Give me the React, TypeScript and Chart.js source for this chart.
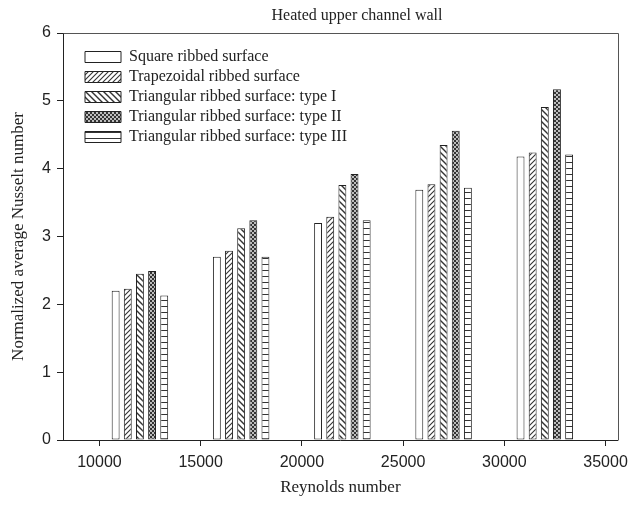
import React, { useEffect, useRef } from "react";
import { Chart, registerables } from "chart.js";

Chart.register(...registerables);

// ---- data ----
const reynolds = [12000, 17000, 22000, 27000, 32000];
const squareRibbed = [2.2, 2.7, 3.2, 3.69, 4.18];
const trapezoidalRibbed = [2.23, 2.79, 3.29, 3.77, 4.24];
const triangularTypeI = [2.45, 3.12, 3.76, 4.35, 4.91];
const triangularTypeII = [2.49, 3.24, 3.92, 4.56, 5.17];
const triangularTypeIII = [2.13, 2.7, 3.24, 3.72, 4.21];
const seriesLabels = [
  "Square ribbed surface",
  "Trapezoidal ribbed surface",
  "Triangular ribbed surface: type I",
  "Triangular ribbed surface: type II",
  "Triangular ribbed surface: type III",
];
const xTickValues = [10000, 15000, 20000, 25000, 30000, 35000];
const chartTitle = "Heated upper channel wall";
const xTitle = "Reynolds number";
const yTitle = "Normalized average Nusselt number";

const INK = "#222222";
const SERIF = '"Liberation Serif", "Times New Roman", serif';
const SANS = '"Liberation Sans", Arial, sans-serif';

function makePattern(kind: string): any {
  const c = document.createElement("canvas");
  const ctx = c.getContext("2d")!;
  if (kind === "none") return "#ffffff";
  if (kind === "fwd") {
    c.width = 5; c.height = 5;
    ctx.fillStyle = "#fff"; ctx.fillRect(0, 0, 5, 5);
    ctx.strokeStyle = "#333"; ctx.lineWidth = 1.1;
    ctx.beginPath();
    ctx.moveTo(0, 5); ctx.lineTo(5, 0);
    ctx.moveTo(-1, 1); ctx.lineTo(1, -1);
    ctx.moveTo(4, 6); ctx.lineTo(6, 4);
    ctx.stroke();
  } else if (kind === "back") {
    c.width = 6; c.height = 6;
    ctx.fillStyle = "#fff"; ctx.fillRect(0, 0, 6, 6);
    ctx.strokeStyle = "#333"; ctx.lineWidth = 1.4;
    ctx.beginPath();
    ctx.moveTo(0, 0); ctx.lineTo(6, 6);
    ctx.moveTo(-1, 5); ctx.lineTo(1, 7);
    ctx.moveTo(5, -1); ctx.lineTo(7, 1);
    ctx.stroke();
  } else if (kind === "cross") {
    c.width = 4; c.height = 4;
    ctx.fillStyle = "#333333"; ctx.fillRect(0, 0, 4, 4);
    ctx.fillStyle = "#ffffff";
    ctx.beginPath(); ctx.arc(1, 1, 0.9, 0, Math.PI * 2); ctx.fill();
    ctx.beginPath(); ctx.arc(3, 3, 0.9, 0, Math.PI * 2); ctx.fill();
  } else if (kind === "horiz") {
    c.width = 6; c.height = 6;
    ctx.fillStyle = "#fff"; ctx.fillRect(0, 0, 6, 6);
    ctx.fillStyle = "#333"; ctx.fillRect(0, 0, 6, 1);
  }
  return ctx.createPattern(c, "repeat");
}

const titlePlugin = {
  id: "customTitle",
  afterDraw(chart: any) {
    const { ctx, chartArea } = chart;
    ctx.save();
    ctx.font = `16px ${SERIF}`;
    ctx.fillStyle = INK;
    ctx.textAlign = "center";
    ctx.textBaseline = "middle";
    const cx = chartArea.left + (chartArea.right - chartArea.left) * 0.53;
    ctx.fillText(chartTitle, cx, chartArea.top - 17);
    ctx.restore();
  },
};

const framePlugin = {
  id: "frame",
  afterDatasetsDraw(chart: any) {
    const { ctx, chartArea } = chart;
    ctx.save();
    ctx.strokeStyle = "#555";
    ctx.lineWidth = 1;
    ctx.beginPath();
    ctx.moveTo(Math.round(chartArea.left) + 0.5, Math.round(chartArea.top) + 0.5);
    ctx.lineTo(Math.round(chartArea.right) + 0.5, Math.round(chartArea.top) + 0.5);
    ctx.lineTo(Math.round(chartArea.right) + 0.5, Math.round(chartArea.bottom) + 0.5);
    ctx.stroke();
    ctx.restore();
  },
};

const legendPlace = {
  id: "legendPlace",
  beforeDraw(chart: any) {
    const lg = chart.legend;
    const ca = chart.chartArea;
    if (lg && ca) {
      const w = lg.right - lg.left;
      const h = lg.bottom - lg.top;
      lg.left = ca.left + 18;
      lg.top = ca.top + 12;
      lg.right = lg.left + w;
      lg.bottom = lg.top + h;
    }
  },
};

export default function App() {
  const ref = useRef<HTMLCanvasElement | null>(null);
  useEffect(() => {
    if (!ref.current) return;
    const kinds = ["none", "fwd", "back", "cross", "horiz"];
    const series = [squareRibbed, trapezoidalRibbed, triangularTypeI, triangularTypeII, triangularTypeIII];
    const datasets = series.map((vals, i) => ({
      label: seriesLabels[i],
      data: reynolds.map((x, j) => ({ x, y: vals[j] })),
      backgroundColor: makePattern(kinds[i]),
      borderColor: INK,
      borderWidth: 1,
      borderSkipped: false,
      categoryPercentage: 0.6,
      barPercentage: 0.65,
    }));
    const chart = new Chart(ref.current, {
      type: "bar",
      data: { datasets } as any,
      plugins: [titlePlugin, framePlugin, legendPlace],
      options: {
        animation: false,
        responsive: true,
        maintainAspectRatio: false,
        layout: { padding: { top: 33, right: 9, left: 0, bottom: 0 } },
        plugins: {
          tooltip: { enabled: false },
          title: { display: false },
          legend: {
            position: "chartArea",
            align: "start",
            labels: {
              boxWidth: 36,
              boxHeight: 11,
              padding: 4,
              color: INK,
              font: { family: SERIF, size: 16 },
            },
          },
        },
        scales: {
          x: {
            type: "linear",
            min: 8200,
            max: 35600,
            offset: false,
            afterBuildTicks: (scale: any) => {
              scale.ticks = xTickValues.map((v) => ({ value: v }));
            },
            afterFit: (scale: any) => {
              scale.height = 67;
            },
            grid: {
              display: true,
              offset: false,
              drawOnChartArea: false,
              drawTicks: true,
              tickLength: 6,
              color: INK,
              tickColor: INK,
            },
            border: { display: true, color: INK, width: 1 },
            ticks: {
              color: INK,
              padding: 7,
              maxRotation: 0,
              font: { family: SANS, size: 16 },
              callback: (v: any) => String(v),
            },
            title: {
              display: true,
              text: xTitle,
              color: INK,
              font: { family: SERIF, size: 17 },
              padding: { top: 0, bottom: 9 },
            },
          },
          y: {
            type: "linear",
            min: 0,
            max: 6,
            afterFit: (scale: any) => {
              scale.width = 63;
            },
            grid: {
              display: true,
              drawOnChartArea: false,
              drawTicks: true,
              tickLength: 6,
              color: INK,
              tickColor: INK,
            },
            border: { display: true, color: INK, width: 1 },
            ticks: {
              stepSize: 1,
              color: INK,
              padding: 6,
              font: { family: SANS, size: 16 },
            },
            title: {
              display: true,
              text: yTitle,
              color: INK,
              font: { family: SERIF, size: 17 },
              padding: { top: 8, bottom: 0 },
            },
          },
        },
      } as any,
    });
    return () => chart.destroy();
  }, []);
  return (
    <div style={{ position: "absolute", left: 0, top: 0, width: 635, height: 507, background: "#fff" }}>
      <canvas ref={ref} />
    </div>
  );
}
